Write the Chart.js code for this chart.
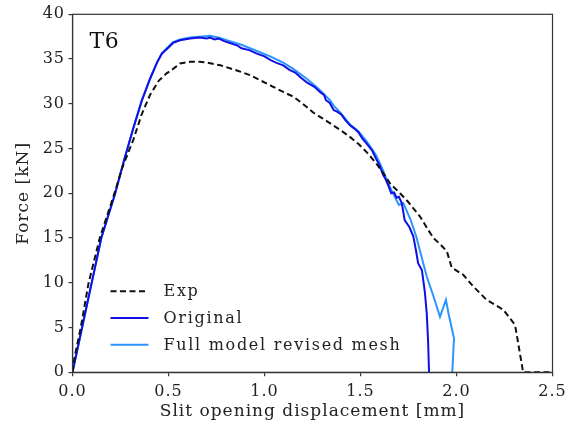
<!DOCTYPE html>
<html>
<head>
<meta charset="utf-8">
<script src="https://cdn.jsdelivr.net/npm/chart.js@4/dist/chart.umd.min.js"></script>
<style>
  html, body { margin: 0; padding: 0; background: #fff; }
  #wrap { width: 568px; height: 430px; position: relative; }
</style>
</head>
<body>
<div id="wrap"><canvas id="c"></canvas></div>
<script>
// Force vs. slit opening displacement, specimen T6
const seriesNames = ['Exp', 'Original', 'Full model revised mesh'];

const expX = [0, 0.01, 0.043, 0.084, 0.142, 0.2125, 0.26, 0.317, 0.36, 0.404, 0.45, 0.49, 0.524, 0.56, 0.612, 0.66, 0.70, 0.77, 0.80, 0.86, 0.925, 0.98, 1.045, 1.10, 1.15, 1.20, 1.255, 1.30, 1.357, 1.40, 1.445, 1.49, 1.532, 1.58, 1.617, 1.654, 1.706, 1.75, 1.81, 1.85, 1.88, 1.92, 1.95, 1.975, 2.035, 2.087, 2.157, 2.243, 2.305, 2.347, 2.40, 2.50];
const expY = [0, 1.6, 5, 10, 15, 19.6, 22.9, 26.0, 28.8, 31.0, 32.6, 33.4, 33.9, 34.5, 34.7, 34.7, 34.6, 34.3, 34.1, 33.7, 33.2, 32.6, 31.9, 31.3, 30.8, 30.0, 29.0, 28.4, 27.6, 27.0, 26.3, 25.5, 24.6, 23.4, 22.3, 21.1, 20.0, 19.0, 17.4, 16.0, 15.0, 14.2, 13.5, 11.7, 10.9, 9.6, 8.1, 7.0, 5.3, 0, 0, 0];

const origX = [0, 0.05, 0.10, 0.15, 0.221, 0.27, 0.317, 0.36, 0.404, 0.440, 0.465, 0.50, 0.524, 0.56, 0.612, 0.66, 0.70, 0.716, 0.74, 0.76, 0.79, 0.82, 0.86, 0.88, 0.92, 0.96, 1.00, 1.03, 1.06, 1.097, 1.13, 1.16, 1.19, 1.22, 1.26, 1.29, 1.31, 1.32, 1.34, 1.36, 1.38, 1.40, 1.42, 1.445, 1.47, 1.49, 1.51, 1.53, 1.56, 1.58, 1.60, 1.617, 1.630, 1.644, 1.66, 1.675, 1.688, 1.700, 1.715, 1.73, 1.755, 1.775, 1.790, 1.80, 1.82, 1.835, 1.845, 1.852, 1.857];
const origY = [0, 5, 10, 15, 19.9, 23.8, 27.3, 30.3, 32.8, 34.6, 35.6, 36.3, 36.8, 37.1, 37.3, 37.4, 37.3, 37.4, 37.2, 37.3, 37.0, 36.8, 36.5, 36.2, 36.0, 35.6, 35.3, 34.9, 34.6, 34.3, 33.8, 33.5, 32.9, 32.4, 31.9, 31.3, 31.0, 30.4, 30.1, 29.3, 29.1, 28.8, 28.2, 27.6, 27.2, 26.8, 26.1, 25.6, 24.8, 23.9, 23.1, 22.1, 21.6, 20.9, 20.0, 20.1, 19.5, 19.6, 18.9, 17.0, 16.2, 15.2, 13.5, 12.2, 11.4, 9.0, 6.6, 3.5, 0];

const revX = [0, 0.05, 0.10, 0.15, 0.221, 0.27, 0.317, 0.36, 0.404, 0.440, 0.465, 0.50, 0.524, 0.56, 0.612, 0.66, 0.716, 0.76, 0.82, 0.88, 0.96, 1.03, 1.097, 1.15, 1.22, 1.28, 1.341, 1.36, 1.40, 1.445, 1.49, 1.532, 1.58, 1.617, 1.637, 1.66, 1.70, 1.723, 1.76, 1.79, 1.845, 1.88, 1.914, 1.945, 1.960, 1.987, 1.978];
const revY = [0, 5, 10, 15, 19.9, 23.8, 27.3, 30.3, 32.8, 34.6, 35.6, 36.4, 36.9, 37.2, 37.4, 37.5, 37.6, 37.4, 37.0, 36.6, 35.9, 35.3, 34.6, 33.9, 32.8, 31.7, 30.4, 29.8, 28.9, 27.7, 26.9, 25.8, 24.3, 22.6, 21.5, 20.4, 18.7, 18.9, 17.1, 15.2, 10.7, 8.5, 6.2, 8.1, 6.4, 3.8, 0];

const xTicks = [0, 0.5, 1.0, 1.5, 2.0, 2.5];
const yTicks = [0, 5, 10, 15, 20, 25, 30, 35, 40];

const pts = (xs, ys) => xs.map((x, i) => ({ x: x, y: ys[i] }));

const SERIF = '"DejaVu Serif", serif';
const AXIS_COLOR = '#333333';
const TEXT_COLOR = '#222222';

// Slightly looser letter spacing for the axis text
const spacing = {
  id: 'spacing',
  beforeDraw(chart) { chart.ctx.letterSpacing = '1px'; }
};

// Frame on all four sides of the plotting area
const frame = {
  id: 'frame',
  afterDatasetsDraw(chart) {
    const { ctx, chartArea: a } = chart;
    ctx.save();
    ctx.strokeStyle = AXIS_COLOR;
    ctx.lineWidth = 1.2;
    ctx.strokeRect(a.left, a.top, a.right - a.left, a.bottom - a.top);
    ctx.restore();
  }
};

// Panel tag in the upper-left corner
const panelTag = {
  id: 'panelTag',
  afterDatasetsDraw(chart) {
    const { ctx, chartArea: a } = chart;
    ctx.save();
    ctx.letterSpacing = '0.5px';
    ctx.font = '22px ' + SERIF;
    ctx.fillStyle = '#111';
    ctx.textBaseline = 'alphabetic';
    ctx.textAlign = 'left';
    ctx.fillText('T6', a.left + 17, a.top + 34);
    ctx.restore();
  }
};

// Legend placed inside the plot, lower left
const insideLegend = {
  id: 'insideLegend',
  afterDatasetsDraw(chart) {
    const { ctx, chartArea: a } = chart;
    const x0 = a.left + 38, x1 = a.left + 76, tx = a.left + 91;
    const y0 = a.bottom - 81, gap = 26.7;
    ctx.save();
    ctx.font = '16px ' + SERIF;
    ctx.letterSpacing = '1.7px';
    ctx.textBaseline = 'middle';
    ctx.textAlign = 'left';
    chart.data.datasets.forEach((ds, i) => {
      const y = y0 + i * gap;
      ctx.strokeStyle = ds.borderColor;
      ctx.lineWidth = ds.borderWidth;
      ctx.setLineDash(ds.borderDash || []);
      ctx.beginPath();
      ctx.moveTo(x0, y);
      ctx.lineTo(x1, y);
      ctx.stroke();
      ctx.setLineDash([]);
      ctx.fillStyle = TEXT_COLOR;
      ctx.fillText(ds.label, tx, y + 1);
    });
    ctx.restore();
  }
};

new Chart(document.getElementById('c'), {
  type: 'line',
  data: {
    datasets: [
      { label: seriesNames[0], data: pts(expX, expY), borderColor: '#111111', borderWidth: 2, borderDash: [6, 3.5] },
      { label: seriesNames[1], data: pts(origX, origY), borderColor: '#1010e6', borderWidth: 2 },
      { label: seriesNames[2], data: pts(revX, revY), borderColor: '#2b95ff', borderWidth: 2 }
    ]
  },
  options: {
    responsive: true,
    maintainAspectRatio: false,
    animation: false,
    parsing: false,
    elements: { point: { radius: 0 }, line: { tension: 0 } },
    layout: { padding: { left: 0, right: 15.5, top: 14.3, bottom: 0 } },
    plugins: { legend: { display: false }, tooltip: { enabled: false } },
    scales: {
      x: {
        type: 'linear', min: 0, max: 2.5,
        afterBuildTicks: s => { s.ticks = xTicks.map(v => ({ value: v })); },
        afterFit: s => { s.height = 57.7; s.paddingLeft = 0; s.paddingRight = 0; },
        grid: { drawOnChartArea: false, drawTicks: true, tickLength: 4, color: AXIS_COLOR, lineWidth: 1.2 },
        border: { display: true, color: AXIS_COLOR, width: 1.2 },
        ticks: { font: { family: SERIF, size: 16 }, color: TEXT_COLOR, padding: 6, maxRotation: 0,
                 callback: v => Number(v).toFixed(1) },
        title: { display: true, text: 'Slit opening displacement [mm]', font: { family: SERIF, size: 17 },
                 color: TEXT_COLOR, padding: { top: 0, bottom: 8 } }
      },
      y: {
        type: 'linear', min: 0, max: 40,
        afterBuildTicks: s => { s.ticks = yTicks.map(v => ({ value: v })); },
        afterFit: s => { s.width = 72.5; s.paddingTop = 0; s.paddingBottom = 0; },
        grid: { drawOnChartArea: false, drawTicks: true, tickLength: 4, color: AXIS_COLOR, lineWidth: 1.2 },
        border: { display: true, color: AXIS_COLOR, width: 1.2 },
        ticks: { font: { family: SERIF, size: 16 }, color: TEXT_COLOR, padding: 3.5,
                 callback: v => String(v) },
        title: { display: true, text: 'Force [kN]', font: { family: SERIF, size: 17 },
                 color: TEXT_COLOR, padding: { top: 13.5, bottom: 0 } }
      }
    }
  },
  plugins: [spacing, frame, panelTag, insideLegend]
});
</script>
</body>
</html>
